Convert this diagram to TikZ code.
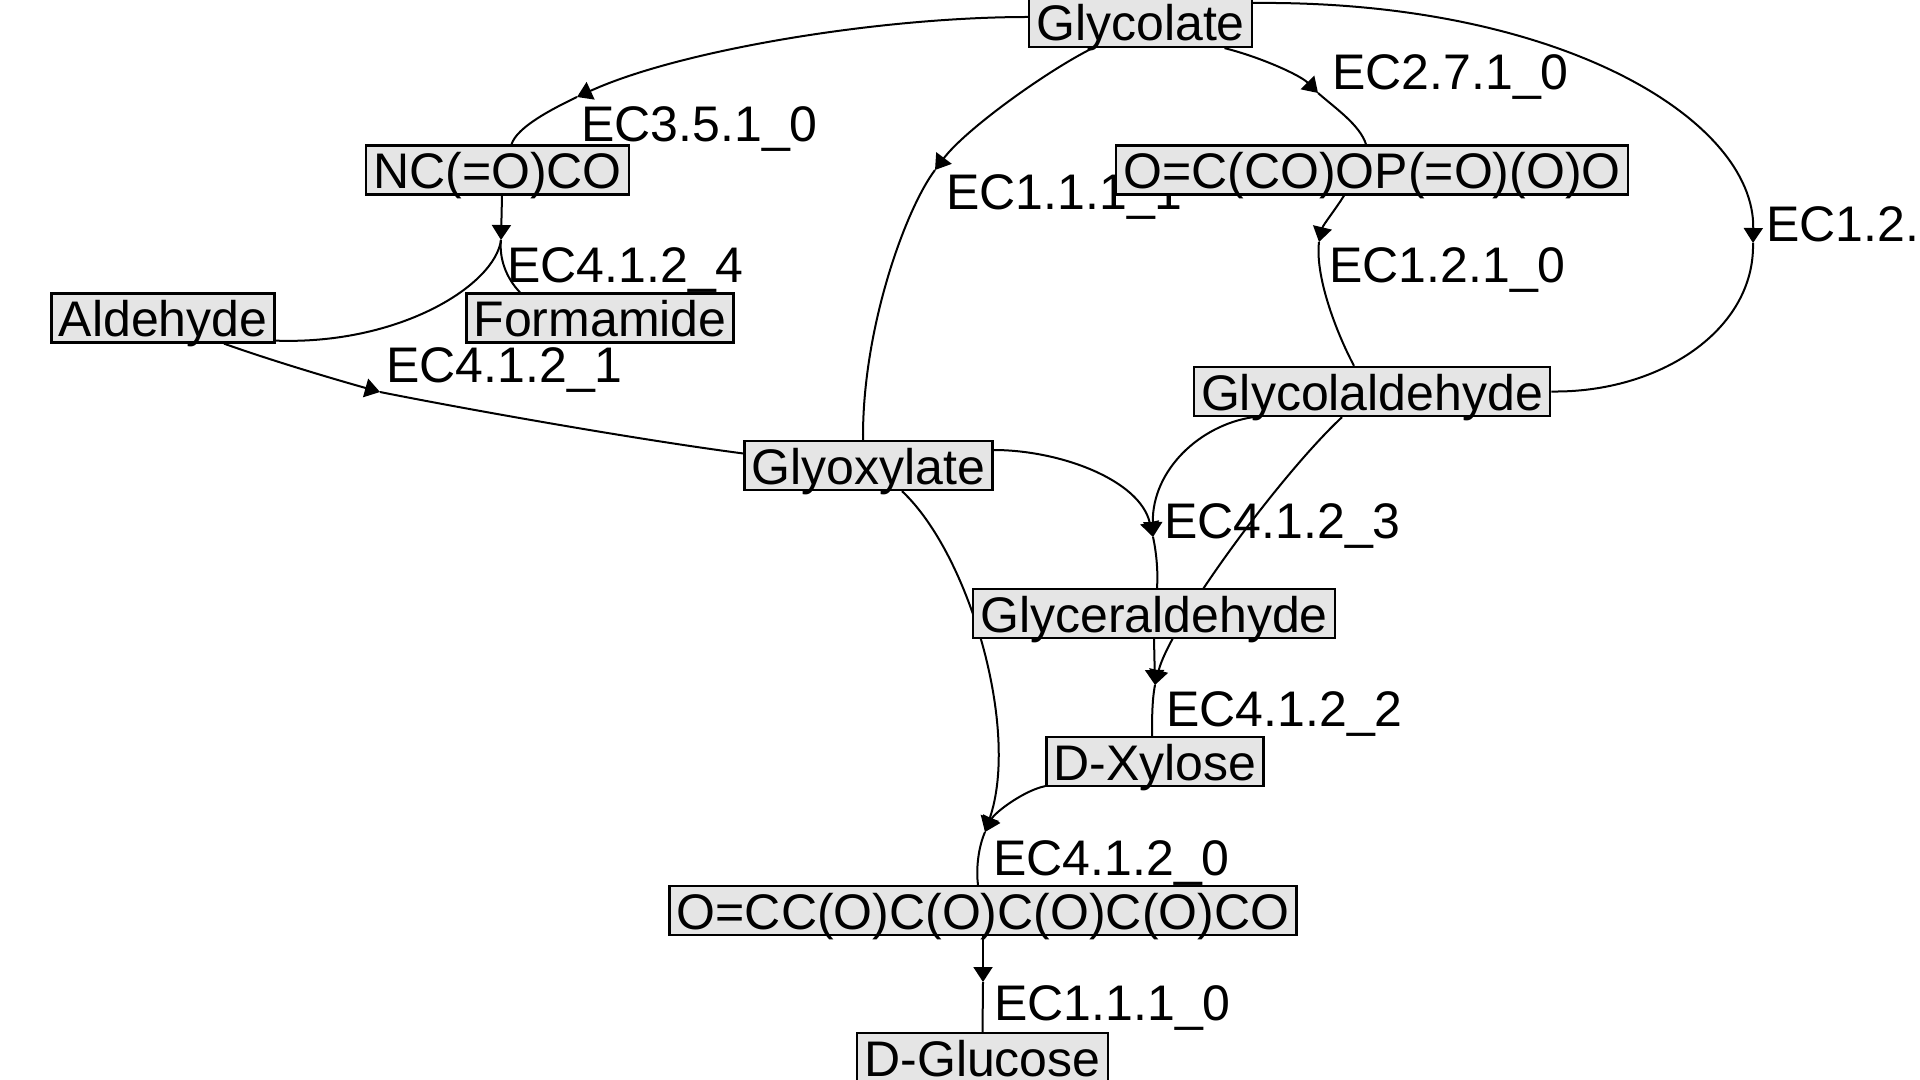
\documentclass[tikz,border=0pt]{standalone}
\usepackage{fontspec}
\setmainfont{Liberation Sans}
\usetikzlibrary{arrows.meta}
\definecolor{boxfill}{RGB}{229,229,229}
\pgfdeclarelayer{bg}
\pgfsetlayers{bg,main}
\begin{document}
\begin{tikzpicture}[x=0.5pt,y=-0.5pt,
  mol/.style={draw=black, line width=1.15pt, fill=boxfill, inner xsep=3.6pt, inner ysep=0pt,
    text height=21.5pt, text depth=3pt, font=\fontsize{25pt}{30pt}\selectfont},
  eclab/.style={inner sep=0pt, anchor=base west, font=\fontsize{25pt}{30pt}\selectfont},
  conn/.style={line width=1pt, draw=black},
  into/.style={conn, -{Triangle[length=7.5pt,width=9.5pt]}},
]
\useasboundingbox (0,0) rectangle (1920,1080);

% compounds
\node[mol] (glycolate) at (1140.5,22.5) {Glycolate};
\node[mol] (amide)     at (497.5,170)   {NC(=O)CO};
\node[mol] (phos)      at (1372,170)    {O=C(CO)OP(=O)(O)O};
\node[mol] (aldehyde)  at (163,318)     {Aldehyde};
\node[mol] (formamide) at (600,318)     {Formamide};
\node[mol] (glycolald) at (1372,391.5)  {Glycolaldehyde};
\node[mol] (glyox)     at (868.5,465.5) {Glyoxylate};
\node[mol] (glycer)    at (1154,613.5)  {Glyceraldehyde};
\node[mol] (xylose)    at (1155,761.5)  {D-Xylose};
\node[mol] (hexose)    at (983,910.5)   {O=CC(O)C(O)C(O)C(O)CO};
\node[mol] (glucose)   at (982.5,1057.5){D-Glucose};

% reaction points
\coordinate (r3510) at (577,97);
\coordinate (r2710) at (1318,93);
\coordinate (r1111) at (935,170);
\coordinate (r121)  at (1753,243);
\coordinate (r1210) at (1319,242);
\coordinate (r4124) at (501,240);
\coordinate (r4121) at (380,392);
\coordinate (r4123) at (1153,537);
\coordinate (r4122) at (1155,685);
\coordinate (r4120) at (985,832);
\coordinate (r1110) at (983,982);

\begin{pgfonlayer}{bg}
% EC3.5.1_0
\draw[into] ([yshift=2.75pt]glycolate.west) .. controls (880,17) and (680,50) .. (r3510);
\draw[conn] (r3510) .. controls (552,109) and (517,127) .. ([xshift=7pt]amide.north);
% EC2.7.1_0
\draw[into] ([xshift=42pt]glycolate.south) .. controls (1260,57) and (1300,75) .. (r2710);
\draw[conn] (r2710) .. controls (1335,108) and (1360,125) .. ([xshift=-3pt]phos.north);
% EC1.1.1_1
\draw[into] ([xshift=-24pt]glycolate.south) .. controls (1045,72) and (965,130) .. (r1111);
\draw[conn] (r1111) .. controls (905,210) and (862,330) .. ([xshift=-2.75pt]glyox.north);
% EC1.2.1_1
\draw[into] ([yshift=9.75pt]glycolate.east) .. controls (1560,0) and (1755,120) .. (r121);
\draw[conn] (r121) .. controls (1755,330) and (1660,393) .. (glycolald.east);
% EC1.2.1_0
\draw[into] ([xshift=-14pt]phos.south) .. controls (1335,210) and (1323,225) .. (r1210);
\draw[conn] (r1210) .. controls (1315,275) and (1335,330) .. ([xshift=-9pt]glycolald.north);
% EC4.1.2_4
\draw[into] ([xshift=2.25pt]amide.south) -- (r4124);
\draw[conn] (r4124) .. controls (499,258) and (506,278) .. ([xshift=-40pt]formamide.north);
\draw[conn] (r4124) .. controls (495,285) and (400,345) .. ([yshift=1.5pt]aldehyde.south east);
% EC4.1.2_1
\draw[into] ([xshift=30.5pt]aldehyde.south) .. controls (270,360) and (330,378) .. (r4121);
\draw[conn] (r4121) .. controls (470,410) and (640,440) .. ([yshift=6pt]glyox.west);
% EC4.1.2_3
\draw[into] ([yshift=7.75pt]glyox.east) .. controls (1060,450) and (1140,480) .. (r4123);
\draw[into] ([xshift=-59.5pt]glycolald.south) .. controls (1200,425) and (1152,470) .. (r4123);
\draw[conn] (r4123) .. controls (1157,555) and (1158,575) .. ([xshift=1.5pt]glycer.north);
% EC4.1.2_2
\draw[into] (glycer.south) -- (r4122);
\draw[into] ([xshift=-15pt]glycolald.south) .. controls (1280,475) and (1170,625) .. (r4122);
\draw[conn] (r4122) .. controls (1152,700) and (1152,720) .. ([xshift=-1.5pt]xylose.north);
% EC4.1.2_0
\draw[into] ([xshift=16.75pt]glyox.south) .. controls (970,555) and (1020,730) .. (r4120);
\draw[into] ([yshift=0.5pt]xylose.south west) .. controls (1025,790) and (995,812) .. (r4120);
\draw[conn] (r4120) .. controls (978,848) and (976,870) .. ([xshift=-2.5pt]hexose.north);
% EC1.1.1_0
\draw[into] (hexose.south) -- (r1110);
\draw[conn] (r1110) -- (glucose.north);

% reaction labels
\node[eclab] (l3510) at (581,142)  {EC3.5.1\_0};
\node[eclab] (l2710) at (1332,90)  {EC2.7.1\_0};
\node[eclab] (l1111) at (946,210)  {EC1.1.1\_1};
\node[eclab] (l121)  at (1766,242) {EC1.2.1\_1};
\node[eclab] (l1210) at (1329,283) {EC1.2.1\_0};
\node[eclab] (l4124) at (507,283)  {EC4.1.2\_4};
\node[eclab] (l4121) at (386,382)  {EC4.1.2\_1};
\node[eclab] (l4123) at (1164,538) {EC4.1.2\_3};
\node[eclab] (l4122) at (1166,726) {EC4.1.2\_2};
\node[eclab] (l4120) at (993,875)  {EC4.1.2\_0};
\node[eclab] (l1110) at (994,1020) {EC1.1.1\_0};
\end{pgfonlayer}
\end{tikzpicture}
\end{document}
